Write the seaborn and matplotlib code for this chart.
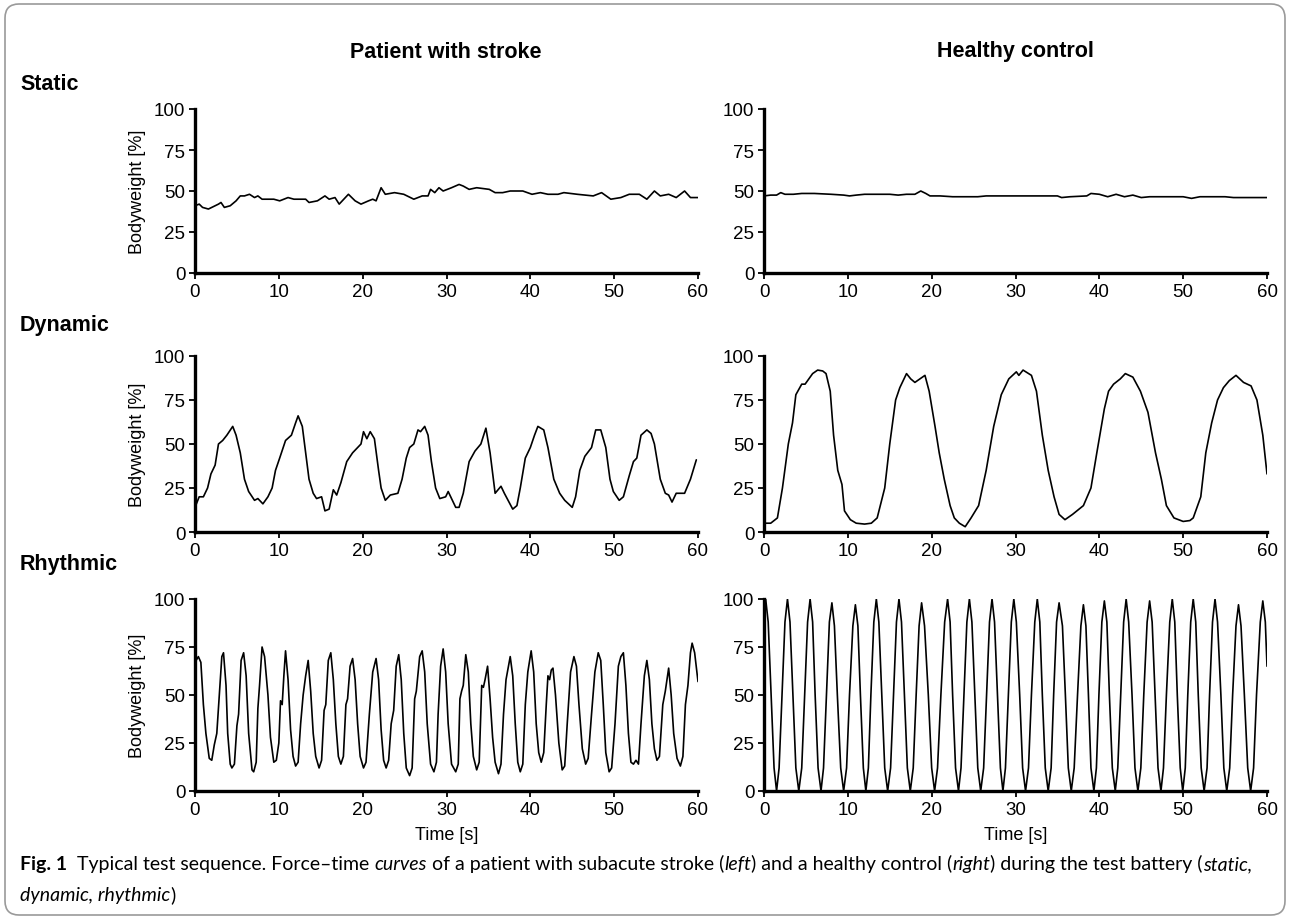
import pandas as pd
import seaborn as sns
import matplotlib.pyplot as plt
from matplotlib.patches import FancyBboxPatch
from matplotlib.transforms import IdentityTransform

# 데이터 (그림에서 읽은 값: (시간 s, 체중 %))
static_patient = [(0, 41), (0.5, 42), (0.9, 40), (1.6, 39), (2.4, 41), (2.8, 42), (3.1, 43), (3.5, 40),
                  (4.2, 41), (4.9, 44), (5.4, 47), (5.9, 47), (6.5, 48), (7.1, 46), (7.5, 47), (8.0, 45),
                  (9.4, 45), (10.1, 44), (11.1, 46), (11.8, 45), (13.2, 45), (13.6, 43), (14.6, 44),
                  (15.5, 47), (16.0, 45), (16.7, 46), (17.2, 42), (18.3, 48), (19.1, 44), (19.8, 42),
                  (20.7, 44), (21.2, 45), (21.6, 44), (22.2, 52), (22.7, 48), (23.8, 49), (24.9, 48),
                  (26.1, 45), (27.1, 47), (27.8, 47), (28.1, 51), (28.6, 49), (29.1, 52), (29.6, 50),
                  (30.6, 52), (31.5, 54), (32.0, 53), (32.7, 51), (33.6, 52), (35.1, 51), (35.8, 49),
                  (36.7, 49), (37.6, 50), (39.1, 50), (40.2, 48), (41.2, 49), (42.1, 48), (43.3, 48),
                  (44.0, 49), (45.6, 48), (47.5, 47), (48.5, 49), (49.6, 45), (50.8, 46), (51.8, 48),
                  (53.0, 48), (53.9, 45), (54.8, 50), (55.5, 47), (56.5, 48), (57.4, 46), (58.4, 50),
                  (59.1, 46), (60, 46)]

static_healthy = [(0, 47), (0.8, 47.5), (1.5, 47.5), (2.0, 49), (2.5, 48), (3.5, 48), (4.5, 48.5), (6, 48.5),
                  (8, 48), (9.5, 47.5), (10.2, 47), (11, 47.5), (12, 48), (14, 48), (15, 48), (16, 47.5),
                  (17, 48), (18, 48), (18.7, 50), (19.3, 48.5), (19.8, 47), (21, 47), (22.5, 46.5),
                  (24, 46.5), (25.5, 46.5), (26.5, 47), (30, 47), (33, 47), (35, 47), (35.5, 46),
                  (36.5, 46.5), (38.5, 47), (39, 48.5), (40, 48), (41, 46.5), (42, 48), (43, 46.5),
                  (44, 47.5), (45, 46), (46, 46.5), (48, 46.5), (50, 46.5), (51, 45.5), (52, 46.5),
                  (55, 46.5), (56, 46), (58, 46), (60, 46)]

dynamic_patient = [(0, 14), (0.5, 20), (1.0, 20), (1.5, 25), (1.9, 33), (2.4, 38), (2.8, 50), (3.3, 52),
                   (3.8, 55), (4.5, 60), (4.9, 55), (5.4, 45), (5.9, 30), (6.4, 23), (7.1, 18), (7.5, 19),
                   (8.1, 16), (8.7, 20), (9.2, 25), (9.6, 35), (10.1, 42), (10.8, 52), (11.5, 55),
                   (12.0, 62), (12.3, 66), (12.8, 60), (13.2, 45), (13.6, 30), (14.1, 22), (14.5, 19),
                   (15.1, 20), (15.5, 12), (16.0, 13), (16.5, 24), (16.9, 21), (17.4, 28), (18.1, 40),
                   (18.8, 45), (19.8, 50), (20.1, 57), (20.5, 53), (20.9, 57), (21.4, 53), (21.9, 35),
                   (22.2, 25), (22.7, 18), (23.3, 21), (24.2, 22), (24.7, 30), (25.2, 42), (25.6, 48),
                   (26.1, 50), (26.6, 58), (26.9, 57), (27.4, 60), (27.8, 55), (28.2, 40), (28.7, 25),
                   (29.2, 19), (29.9, 20), (30.2, 23), (30.5, 20), (31.1, 14), (31.5, 14), (32.0, 22),
                   (32.7, 40), (33.4, 46), (34.1, 50), (34.7, 59), (35.2, 45), (35.8, 22), (36.5, 26),
                   (36.9, 22), (37.9, 13), (38.4, 15), (38.8, 25), (39.4, 42), (40.0, 48), (40.5, 55),
                   (40.9, 60), (41.6, 58), (42.1, 48), (42.8, 30), (43.5, 22), (44.1, 18), (45.0, 14),
                   (45.4, 20), (45.9, 35), (46.5, 43), (47.3, 48), (47.8, 58), (48.4, 58), (49.0, 48),
                   (49.5, 30), (49.9, 23), (50.6, 18), (51.1, 20), (51.8, 32), (52.3, 40), (52.7, 42),
                   (53.2, 55), (53.9, 58), (54.4, 56), (54.8, 50), (55.5, 30), (56.1, 22), (56.5, 21),
                   (56.9, 17), (57.4, 22), (58.4, 22), (59.1, 30), (59.8, 41)]

dynamic_healthy = [(0, 5), (0.8, 5), (1.6, 8), (2.2, 25), (2.9, 50), (3.4, 62), (3.8, 78), (4.5, 84),
                   (4.9, 84), (5.8, 90), (6.4, 92), (7.0, 91.5), (7.4, 90), (7.9, 80), (8.3, 55), (8.8, 35),
                   (9.3, 27), (9.6, 12), (10.3, 7), (11, 5), (12, 4.5), (12.8, 5), (13.5, 8), (14.4, 25),
                   (15.0, 50), (15.7, 75), (16.2, 82), (17.0, 90), (17.5, 87), (18.0, 85), (18.6, 87),
                   (19.2, 89), (19.7, 80), (20.4, 60), (20.9, 45), (21.5, 30), (22.2, 15), (22.7, 8),
                   (23.3, 5), (24.0, 3), (24.7, 8), (25.6, 15), (26.5, 35), (27.4, 60), (28.3, 78),
                   (29.2, 87), (30.1, 91), (30.4, 89), (30.9, 92), (31.9, 89), (32.5, 80), (33.2, 55),
                   (33.9, 35), (34.6, 20), (35.2, 10), (35.9, 7), (36.8, 10), (38.1, 15), (39.0, 25),
                   (39.7, 45), (40.6, 70), (41.1, 80), (41.7, 84), (42.5, 87), (43.1, 90), (44.0, 88),
                   (44.9, 80), (45.8, 68), (46.7, 45), (47.4, 30), (48.0, 15), (48.9, 8), (50.0, 6),
                   (50.8, 6.5), (51.2, 8), (52.1, 20), (52.7, 45), (53.4, 62), (54.1, 75), (54.8, 82),
                   (55.5, 86), (56.3, 89), (57.2, 85), (58.1, 83), (58.8, 75), (59.5, 55), (60.0, 33)]

rhythmic_patient = [(0.0, 67), (0.4, 70), (0.7, 67), (1.0, 45), (1.3, 30), (1.7, 17), (2.0, 16), (2.3, 24),
                    (2.6, 30), (2.9, 50), (3.2, 70), (3.4, 72), (3.7, 55), (3.9, 30), (4.2, 14), (4.4, 12),
                    (4.7, 14), (5.0, 34), (5.2, 40), (5.5, 68), (5.8, 72), (6.1, 60), (6.4, 30), (6.8, 11),
                    (7.0, 10), (7.3, 15), (7.5, 43), (7.7, 55), (8.0, 75), (8.3, 70), (8.7, 50), (9.0, 28),
                    (9.4, 15), (9.7, 16), (10.0, 25), (10.2, 47), (10.4, 45), (10.6, 60), (10.8, 73),
                    (11.1, 58), (11.4, 32), (11.7, 18), (12.0, 13), (12.3, 15), (12.6, 35), (12.9, 50),
                    (13.2, 60), (13.5, 68), (13.8, 52), (14.1, 30), (14.4, 18), (14.8, 12), (15.1, 16),
                    (15.4, 42), (15.6, 45), (15.9, 68), (16.2, 72), (16.5, 58), (16.8, 35), (17.1, 18),
                    (17.4, 14), (17.7, 18), (18.0, 45), (18.2, 48), (18.5, 65), (18.8, 69), (19.1, 58),
                    (19.4, 35), (19.7, 18), (20.1, 12), (20.4, 15), (20.8, 40), (21.2, 62), (21.6, 69),
                    (21.9, 58), (22.2, 32), (22.5, 16), (22.8, 12), (23.1, 16), (23.4, 35), (23.7, 42),
                    (24.0, 65), (24.3, 71), (24.6, 58), (24.9, 30), (25.2, 12), (25.6, 8), (25.9, 12),
                    (26.2, 48), (26.4, 52), (26.8, 70), (27.1, 73), (27.4, 62), (27.7, 35), (28.1, 14),
                    (28.5, 10), (28.8, 15), (29.0, 40), (29.3, 65), (29.6, 74), (29.9, 62), (30.2, 35),
                    (30.6, 14), (31.1, 10), (31.4, 14), (31.6, 48), (31.8, 52), (32.0, 55), (32.3, 71),
                    (32.6, 62), (32.9, 35), (33.2, 18), (33.6, 11), (33.9, 15), (34.2, 55), (34.4, 54),
                    (34.6, 58), (34.9, 65), (35.2, 48), (35.5, 28), (35.8, 15), (36.2, 9), (36.5, 14),
                    (36.8, 40), (37.1, 58), (37.6, 70), (37.9, 60), (38.2, 35), (38.5, 15), (38.8, 10),
                    (39.1, 14), (39.4, 45), (39.7, 62), (40.1, 73), (40.4, 62), (40.7, 35), (41.0, 20),
                    (41.3, 15), (41.6, 20), (41.9, 45), (42.1, 60), (42.3, 58), (42.5, 63), (42.7, 64),
                    (43.0, 50), (43.4, 25), (43.8, 11), (44.1, 13), (44.4, 35), (44.8, 62), (45.2, 70),
                    (45.5, 65), (45.8, 45), (46.2, 22), (46.6, 14), (46.9, 17), (47.3, 40), (47.7, 62),
                    (48.1, 72), (48.4, 68), (48.7, 45), (49.0, 20), (49.4, 10), (49.7, 12), (50.1, 35),
                    (50.5, 65), (50.8, 70), (51.1, 72), (51.4, 55), (51.7, 30), (52.0, 15), (52.3, 14),
                    (52.6, 16), (52.9, 14), (53.2, 35), (53.6, 60), (53.9, 68), (54.2, 58), (54.5, 35),
                    (54.8, 22), (55.1, 16), (55.4, 18), (55.8, 45), (56.1, 52), (56.5, 64), (56.8, 50),
                    (57.1, 30), (57.5, 17), (57.9, 13), (58.2, 18), (58.5, 45), (58.8, 55), (59.1, 72),
                    (59.3, 77), (59.6, 72), (60.0, 57)]

rhythmic_healthy = [(0.0, 97), (0.2, 100), (0.5, 88), (0.85, 50), (1.2, 12), (1.5, 0), (1.8, 12), (2.15, 50),
                    (2.5, 88), (2.8, 100), (3.1, 88), (3.45, 50), (3.8, 12), (4.15, 0), (4.5, 12), (4.85, 50),
                    (5.2, 88), (5.5, 100), (5.8, 88), (6.1, 50), (6.45, 12), (6.8, 0), (7.1, 12), (7.45, 50),
                    (7.8, 88), (8.1, 98), (8.4, 86), (8.75, 50), (9.15, 12), (9.5, 0), (9.85, 12), (10.2, 50),
                    (10.6, 86), (10.9, 97), (11.2, 86), (11.5, 50), (11.85, 12), (12.15, 0), (12.45, 12),
                    (12.75, 50), (13.1, 88), (13.4, 100), (13.7, 88), (14.05, 50), (14.4, 12), (14.75, 0),
                    (15.1, 12), (15.45, 50), (15.8, 88), (16.1, 100), (16.4, 88), (16.75, 50), (17.1, 12),
                    (17.45, 0), (17.8, 12), (18.15, 50), (18.5, 86), (18.8, 98), (19.15, 86), (19.6, 50),
                    (20.0, 12), (20.35, 0), (20.7, 12), (21.1, 50), (21.55, 88), (21.9, 100), (22.2, 88),
                    (22.5, 50), (22.85, 12), (23.2, 0), (23.5, 12), (23.85, 50), (24.2, 88), (24.5, 100),
                    (24.8, 88), (25.15, 50), (25.5, 12), (25.85, 0), (26.2, 12), (26.55, 50), (26.9, 88),
                    (27.2, 100), (27.5, 88), (27.85, 50), (28.2, 12), (28.5, 0), (28.8, 12), (29.15, 50),
                    (29.5, 88), (29.8, 100), (30.1, 88), (30.5, 50), (30.85, 12), (31.2, 0), (31.55, 12),
                    (31.9, 50), (32.3, 88), (32.6, 100), (32.9, 88), (33.2, 50), (33.55, 12), (33.9, 0),
                    (34.25, 12), (34.55, 50), (34.9, 88), (35.2, 98), (35.6, 86), (35.95, 50), (36.3, 12),
                    (36.65, 0), (37.0, 12), (37.4, 50), (37.8, 86), (38.1, 97), (38.4, 86), (38.7, 50),
                    (39.0, 12), (39.35, 0), (39.65, 12), (39.95, 50), (40.3, 88), (40.6, 99), (40.9, 88),
                    (41.2, 50), (41.55, 12), (41.9, 0), (42.2, 12), (42.55, 50), (42.9, 88), (43.2, 100),
                    (43.5, 88), (43.9, 50), (44.25, 12), (44.6, 0), (44.95, 12), (45.3, 50), (45.7, 88),
                    (46.0, 99), (46.3, 88), (46.65, 50), (47.0, 12), (47.35, 0), (47.65, 12), (48.0, 50),
                    (48.4, 88), (48.7, 100), (49.0, 88), (49.3, 50), (49.65, 12), (49.95, 0), (50.25, 12),
                    (50.55, 50), (50.9, 88), (51.2, 100), (51.5, 88), (51.8, 50), (52.15, 12), (52.5, 0),
                    (52.85, 12), (53.15, 50), (53.5, 88), (53.8, 100), (54.1, 88), (54.5, 50), (54.85, 12),
                    (55.2, 0), (55.55, 12), (55.9, 50), (56.3, 86), (56.6, 97), (56.9, 86), (57.3, 50),
                    (57.7, 12), (58.05, 0), (58.4, 12), (58.75, 50), (59.2, 88), (59.5, 99), (59.8, 88),
                    (60.0, 65)]

row_names = ['Static', 'Dynamic', 'Rhythmic']
col_names = ['Patient with stroke', 'Healthy control']
series = [[static_patient, static_healthy],
          [dynamic_patient, dynamic_healthy],
          [rhythmic_patient, rhythmic_healthy]]
x_ticks = [0, 10, 20, 30, 40, 50, 60]
y_ticks = [0, 25, 50, 75, 100]

sns.set_theme(style='ticks')
plt.rcParams['font.family'] = ['Liberation Sans', 'DejaVu Sans']
plt.rcParams['text.color'] = 'black'
plt.rcParams['axes.labelcolor'] = 'black'

W, H = 1290, 920
fig = plt.figure(figsize=(W / 100, H / 100), dpi=100)

# 패널 위치 (픽셀: 위, 아래)
col_x = [195, 764]
col_w = 503
row_y = [(110, 274), (357, 533), (600, 792)]

for r in range(3):
    top, bot = row_y[r]
    for c in range(2):
        ax = fig.add_axes([col_x[c] / W, (H - bot) / H, col_w / W, (bot - top) / H])
        df = pd.DataFrame(series[r][c], columns=['t', 'bw'])
        sns.lineplot(data=df, x='t', y='bw', ax=ax, color='black', lw=1.2, sort=False)
        ax.set_xlim(0, 60)
        ax.set_ylim(0, 100)
        ax.set_xticks(x_ticks)
        ax.set_yticks(y_ticks)
        ax.tick_params(labelsize=13.5, length=4, width=1.3, colors='black', pad=3)
        for s in ['left', 'bottom']:
            ax.spines[s].set_linewidth(2.4)
            ax.spines[s].set_color('black')
        sns.despine(ax=ax)
        ax.set_xlabel('Time [s]' if r == 2 else '', fontsize=13, labelpad=6)
        ax.set_ylabel('Bodyweight [%]' if c == 0 else '', fontsize=13, labelpad=6)

# 제목들
fig.text(446 / W, 1 - 52 / H, col_names[0], ha='center', va='center', fontsize=15.5, fontweight='bold')
fig.text(1015 / W, 1 - 52 / H, col_names[1], ha='center', va='center', fontsize=15.5, fontweight='bold')
for name, y in zip(row_names, [85, 325, 565]):
    fig.text(20 / W, 1 - y / H, name, ha='left', va='center', fontsize=15.5, fontweight='bold')

# 캡션 (글꼴 모양이 섞여서 조각을 이어 붙임)
line1 = [('Fig. 1', 'bold', 'normal'), ('  Typical test sequence. Force\u2013time ', 'normal', 'normal'),
         ('curves', 'normal', 'italic'), (' of a patient with subacute stroke (', 'normal', 'normal'),
         ('left', 'normal', 'italic'), (') and a healthy control (', 'normal', 'normal'),
         ('right', 'normal', 'italic'), (') during the test battery (', 'normal', 'normal'),
         ('static,', 'normal', 'italic')]
line2 = [('dynamic, rhythmic', 'normal', 'italic'), (')', 'normal', 'normal')]
cap_size = 14
cap_font = ['Lato', 'DejaVu Sans']
for pieces, y in [(line1, 873), (line2, 904)]:
    prev = None
    for txt, wt, st in pieces:
        if prev is None:
            prev = fig.text(20 / W, 1 - y / H, txt, ha='left', va='bottom', fontsize=cap_size,
                            fontweight=wt, fontstyle=st, family=cap_font)
        else:
            prev = ax.annotate(txt, xy=(1, 0), xycoords=prev, ha='left', va='bottom', family=cap_font,
                               fontsize=cap_size, fontweight=wt, fontstyle=st, annotation_clip=False)

# 테두리
box = FancyBboxPatch((5, 4), W - 10, H - 9, boxstyle='round,pad=0,rounding_size=14',
                     transform=IdentityTransform(), fill=False, edgecolor='#9a9a9a', lw=1.2)
fig.patches.append(box)

plt.savefig('out.png', dpi=100)
